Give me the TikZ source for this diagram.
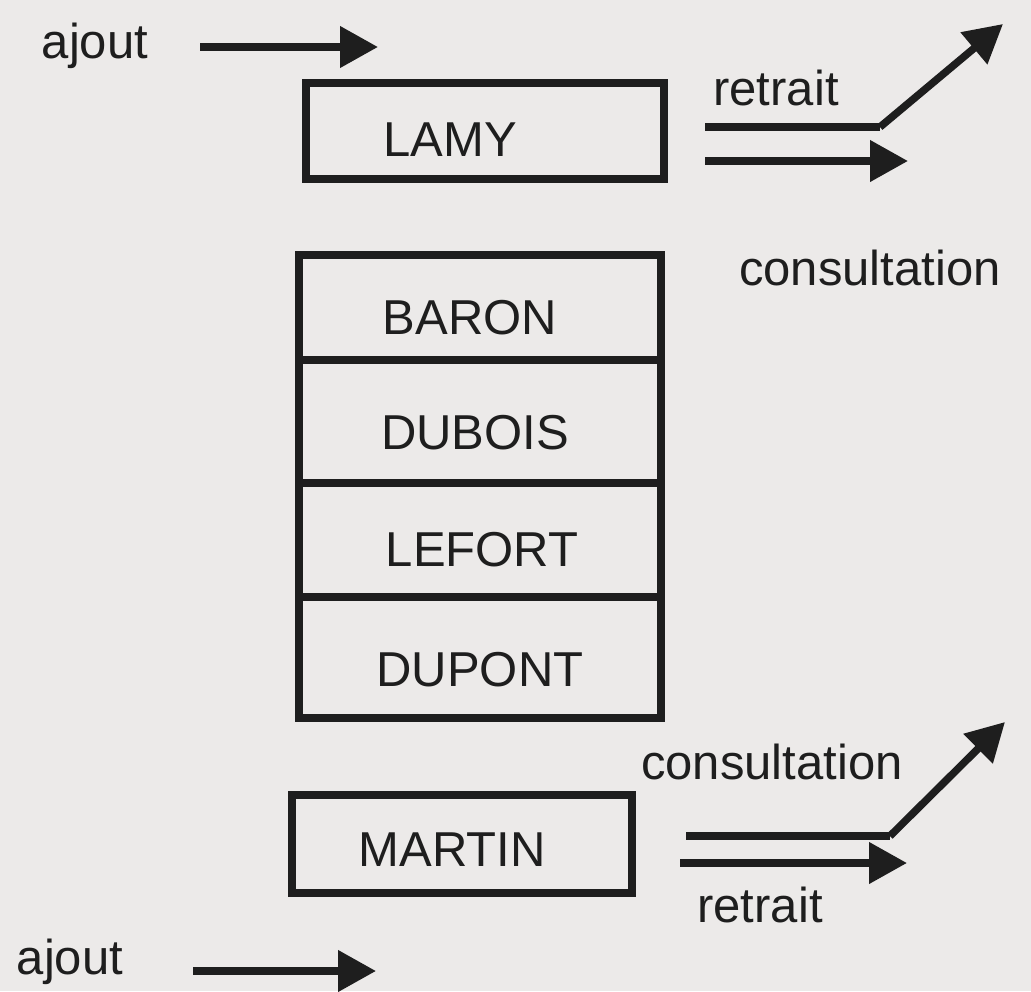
\documentclass[tikz,border=0pt]{standalone}
\usepackage{fontspec}
\setmainfont{Liberation Sans}
\usetikzlibrary{arrows.meta}
\definecolor{ink}{HTML}{1E1E1E}
\definecolor{paper}{HTML}{ECEAE9}
\begin{document}
\begin{tikzpicture}[x=1pt,y=-1pt,
  every node/.style={font=\fontsize{49}{56}\selectfont, text=ink},
  cell/.style={draw=ink, line width=8pt, minimum width=#1, inner sep=0pt},
  flow/.style={draw=ink, line width=7.5pt, -{Triangle[length=38pt,width=40pt]}},
  bar/.style={draw=ink, line width=7.5pt, line join=miter}]
  % page
  \fill[paper] (0,0) rectangle (1031,991);
  \useasboundingbox (0,0) rectangle (1031,991);

  % top element
  \node[cell=358pt, minimum height=96pt] (lamy) at (485,131) {};
  \node at (450,140) {LAMY};

  % stack of elements
  \node[cell=362pt, minimum height=105pt] (baron)  at (480,307) {};
  \node[cell=362pt, minimum height=123pt] (dubois) at (480,421) {};
  \node[cell=362pt, minimum height=114pt] (lefort) at (480,540) {};
  \node[cell=362pt, minimum height=121pt] (dupont) at (480,657) {};
  \node at (470,318) {BARON};
  \node at (475,433) {DUBOIS};
  \node at (482,550) {LEFORT};
  \node at (480,670) {DUPONT};

  % bottom element
  \node[cell=340pt, minimum height=98pt] (martin) at (462,844) {};
  \node at (452,850) {MARTIN};

  % top side labels and arrows
  \node (ajout1) at (95,46) {ajout};
  \coordinate (a1s) at (200,47);
  \coordinate (a1e) at (378,47);
  \draw[flow] (a1s) -- (a1e);

  \node (ret1) at (776,88) {retrait};
  \coordinate (r1s) at (705,127);
  \coordinate (r1k) at (880,127);
  \coordinate (r1e) at (1003,24);
  \draw[bar] (r1s) -- (r1k);
  \draw[flow] (r1k) -- (r1e);
  \coordinate (c1s) at (705,161);
  \coordinate (c1e) at (908,161);
  \draw[flow] (c1s) -- (c1e);
  \node (cons1) at (870,268) {consultation};

  % bottom side labels and arrows
  \node (cons2) at (772,762) {consultation};
  \coordinate (c2s) at (686,836);
  \coordinate (c2k) at (890,836);
  \coordinate (c2e) at (1005,722);
  \draw[bar] (c2s) -- (c2k);
  \draw[flow] (c2k) -- (c2e);
  \coordinate (r2s) at (680,863);
  \coordinate (r2e) at (907,863);
  \draw[flow] (r2s) -- (r2e);
  \node (ret2) at (760,905) {retrait};

  \node (ajout2) at (70,962) {ajout};
  \coordinate (a2s) at (193,971);
  \coordinate (a2e) at (376,971);
  \draw[flow] (a2s) -- (a2e);
\end{tikzpicture}
\end{document}
